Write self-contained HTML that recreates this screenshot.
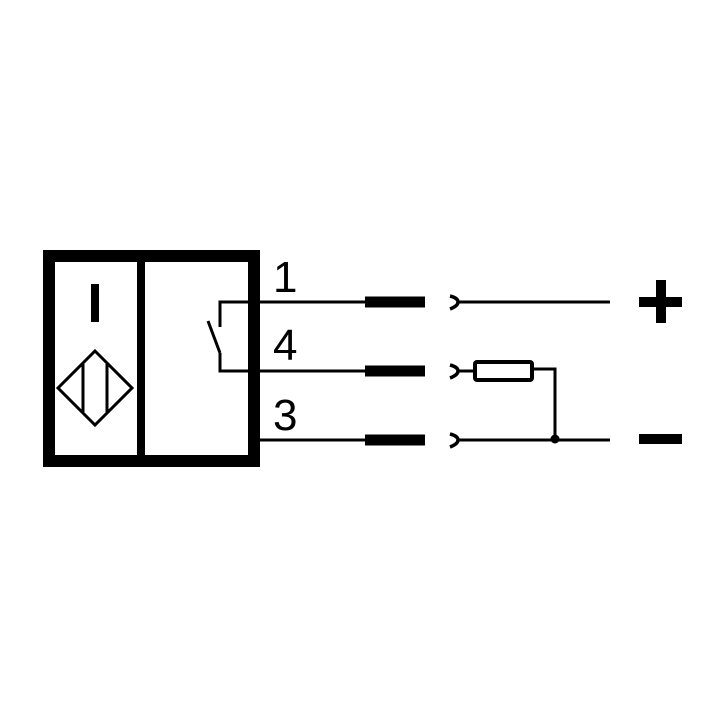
<!DOCTYPE html>
<html><head><style>html,body{margin:0;padding:0;background:#fff}</style></head>
<body>
<svg width="714" height="714" viewBox="0 0 714 714" xmlns="http://www.w3.org/2000/svg">
<rect width="714" height="714" fill="#fff"/>
<g fill="none" stroke="#000">
<rect x="49" y="256" width="205" height="205" stroke-width="12"/>
<line x1="141" y1="256" x2="141" y2="461" stroke-width="8"/>
<polygon points="95,351 132,388 95,425 58,388" stroke-width="3"/>
<line x1="83" y1="364" x2="83" y2="412" stroke-width="3"/>
<line x1="107" y1="364" x2="107" y2="412" stroke-width="3"/>
<polyline points="260,302 220,302 220,327" stroke-width="3"/>
<line x1="208" y1="321" x2="220" y2="353" stroke-width="3"/>
<polyline points="220,353 220,371 365,371" stroke-width="3"/>
<line x1="260" y1="302" x2="365" y2="302" stroke-width="3"/>
<line x1="260" y1="440" x2="365" y2="440" stroke-width="3"/>
<g stroke-width="11" stroke-linecap="butt">
<line x1="365" y1="302" x2="425" y2="302"/>
<line x1="365" y1="371" x2="425" y2="371"/>
<line x1="365" y1="440" x2="425" y2="440"/>
</g>
<g stroke-width="3.5">
<path d="M450,296 Q458,298 458,302 Q458,306 450,309"/>
<path d="M450,365 Q458,367 458,371 Q458,375 450,378"/>
<path d="M450,434 Q458,436 458,440 Q458,444 450,447"/>
</g>
<line x1="458" y1="302" x2="610" y2="302" stroke-width="3"/>
<line x1="458" y1="371" x2="475" y2="371" stroke-width="3"/>
<rect x="475" y="362" width="57" height="18" stroke-width="4" rx="2"/>
<polyline points="532,369 555,369 555,440" stroke-width="3"/>
<line x1="458" y1="440" x2="610" y2="440" stroke-width="3"/>
</g>
<circle cx="555" cy="439" r="4.5" fill="#000"/>
<rect x="639" y="297" width="43" height="10" fill="#000"/>
<rect x="656" y="280" width="10" height="43" fill="#000"/>
<rect x="639" y="434" width="43" height="10" fill="#000"/>
<rect x="91" y="284" width="8" height="38" fill="#000"/>
<g font-family="Liberation Sans, sans-serif" font-size="44" fill="#000">
<text x="273" y="292">1</text>
<text x="273" y="360">4</text>
<text x="273" y="430">3</text>
</g>
</svg>
</body></html>
